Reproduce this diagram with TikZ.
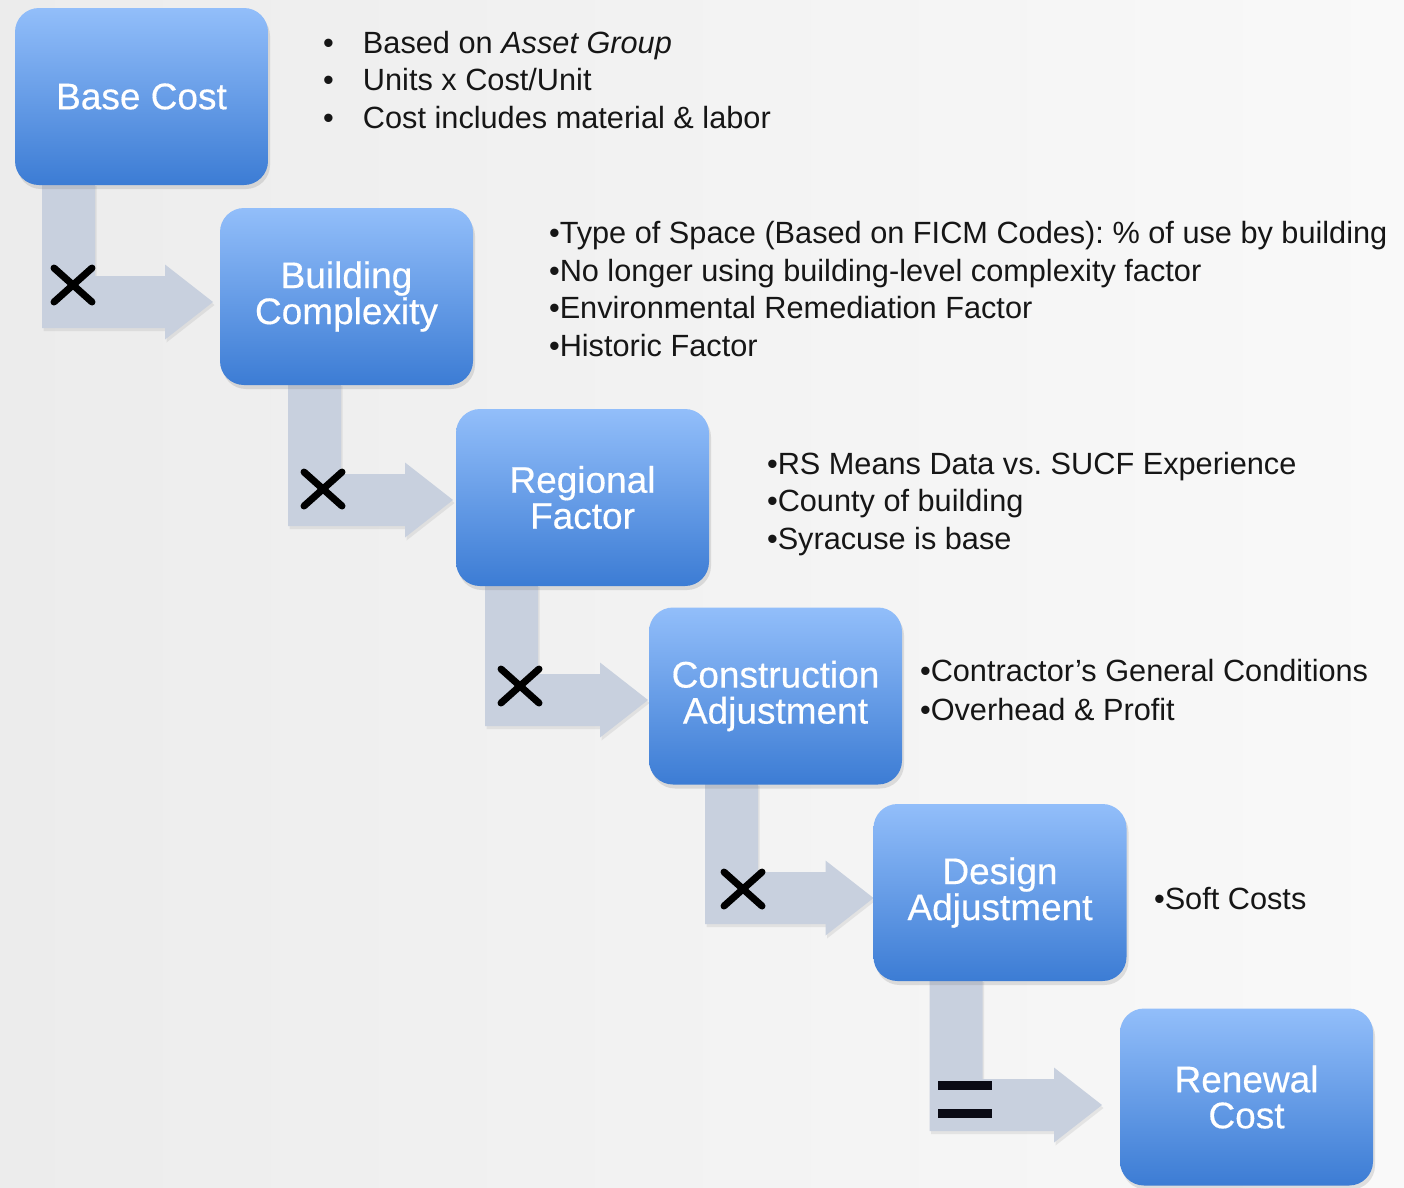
\documentclass[tikz,border=0pt]{standalone}
\usepackage{fontspec}
\setmainfont{Liberation Sans}
\newfontfamily\boxfont[FakeBold=0.4]{Liberation Sans}
\usetikzlibrary{calc,shadows}
\pgfdeclarelayer{back}
\pgfdeclarelayer{bg}
\pgfsetlayers{back,bg,main}
\definecolor{boxtop}{RGB}{146,190,250}
\definecolor{boxbot}{RGB}{60,124,212}
\definecolor{arrowgray}{RGB}{200,208,222}
\definecolor{bgleft}{RGB}{236,236,236}
\definecolor{bgright}{RGB}{249,249,249}
\definecolor{notecol}{RGB}{22,22,22}
\tikzset{
  stepbox/.style={rounded corners=24pt, minimum width=253pt, minimum height=177pt,
    inner sep=0pt, outer sep=0pt, top color=boxtop, bottom color=boxbot,
    text=white, align=center, font=\boxfont\fontsize{37}{36}\selectfont,
    drop shadow={shadow xshift=2pt, shadow yshift=-4pt, opacity=0.22}},
  note/.style={anchor=base west, inner sep=0pt, outer sep=0pt, text=notecol,
    font=\fontsize{30.7}{37}\selectfont},
  blockarrow/.style={fill=arrowgray,
    drop shadow={shadow xshift=1.5pt, shadow yshift=-3pt, opacity=0.15}},
  opmark/.style={line width=7pt, line cap=round, draw=black},
  eqbar/.style={fill={rgb,255:red,10;green,10;blue,20}}
}
% #1 from node, #2 to node, #3 x offset from left of #1, #4 gap before #2, #5 downward shift of centre line
\newcommand\flowarrow[5]{%
  \path[blockarrow] let \p1=(#1.south west), \p2=(#2.west) in
    (\x1+#3pt, \y1+2pt) -- (\x1+#3pt+53pt, \y1+2pt)
    -- (\x1+#3pt+53pt, \y2-#5pt+26pt) -- (\x2-#4pt-48pt, \y2-#5pt+26pt)
    -- (\x2-#4pt-48pt, \y2-#5pt+37.5pt) -- (\x2-#4pt, \y2-#5pt)
    -- (\x2-#4pt-48pt, \y2-#5pt-37.5pt) -- (\x2-#4pt-48pt, \y2-#5pt-26pt)
    -- (\x1+#3pt, \y2-#5pt-26pt) -- cycle;}
\begin{document}
\frenchspacing
\begin{tikzpicture}[x=1pt,y=-1pt]
\begin{pgfonlayer}{back}
  \fill[left color=bgleft, right color=bgright] (0,0) rectangle (1404,1187);
\end{pgfonlayer}
\useasboundingbox (0,0) rectangle (1404,1187);

% boxes
\node[stepbox] (b1) at (141.5,96.5) {Base Cost};
\node[stepbox] (b2) at (346.5,296.5) {Building\\Complexity};
\node[stepbox] (b3) at (582.5,497.5) {Regional\\Factor};
\node[stepbox] (b4) at (775.5,696) {Construction\\Adjustment};
\node[stepbox] (b5) at (1000,892.5) {Design\\Adjustment};
\node[stepbox] (b6) at (1246.5,1097) {Renewal\\Cost};

% bent block arrows
\begin{pgfonlayer}{bg}
  \flowarrow{b1}{b2}{27}{7}{5.5}
  \flowarrow{b2}{b3}{68}{3}{2.5}
  \flowarrow{b3}{b4}{29}{1}{4}
  \flowarrow{b4}{b5}{56}{0}{5.5}
  \flowarrow{b5}{b6}{56}{18}{8}
\end{pgfonlayer}

% operators
\draw[opmark] (54,268) -- (92,302) (54,302) -- (92,268);
\draw[opmark] (304,472) -- (342,506) (304,506) -- (342,472);
\draw[opmark] (501,669) -- (539,703) (501,703) -- (539,669);
\draw[opmark] (724,872) -- (762,906) (724,906) -- (762,872);
\fill[eqbar] (938,1081) rectangle (992,1090);
\fill[eqbar] (938,1109) rectangle (992,1118);

% notes
\node[note] (n1a) at (323,53) {\makebox[40pt][l]{•}Based on \textit{Asset Group}};
\node[note] (n1b) at (323,90) {\makebox[40pt][l]{•}Units x Cost/Unit};
\node[note] (n1c) at (323,128) {\makebox[40pt][l]{•}Cost includes material \& labor};

\node[note] (n2a) at (549,243) {•Type of Space (Based on FICM Codes): \% of use by building};
\node[note] (n2b) at (549,281) {•No longer using building-level complexity factor};
\node[note] (n2c) at (549,318) {•Environmental Remediation Factor};
\node[note] (n2d) at (549,356) {•Historic Factor};

\node[note] (n3a) at (767,474) {•RS Means Data vs. SUCF Experience};
\node[note] (n3b) at (767,511) {•County of building};
\node[note] (n3c) at (767,549) {•Syracuse is base};

\node[note] (n4a) at (920,681) {•Contractor’s General Conditions};
\node[note] (n4b) at (920,720) {•Overhead \& Profit};

\node[note] (n5a) at (1154,909) {•Soft Costs};
\end{tikzpicture}
\end{document}
